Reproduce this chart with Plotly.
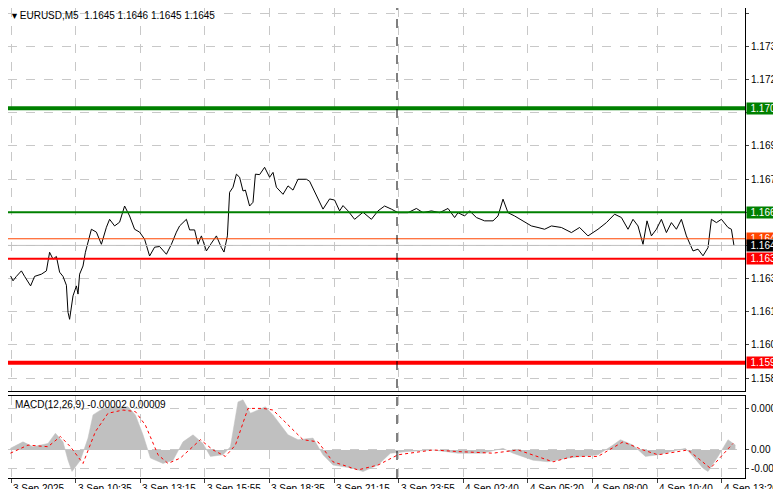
import plotly.graph_objects as go

# price trace (bar index, close)
price_bar = [1.3, 2.5, 4.2, 6.7, 8.3, 11.3, 13.3, 16.7, 19.2, 20.8, 22.5, 24.2, 25.8, 27.5, 29.2, 30.0, 30.8, 32.5, 34.2, 35.0, 35.8, 37.5, 38.7, 40.0, 41.7, 44.2, 46.7, 49.2, 50.8, 53.3, 55.8, 58.3, 60.8, 63.3, 65.8, 68.3, 70.8, 73.3, 75.8, 79.2, 81.7, 84.2, 85.8, 89.2, 90.8, 93.3, 95.0, 96.7, 99.2, 101.7, 104.2, 106.7, 108.0, 109.7, 110.8, 112.5, 114.2, 115.8, 117.5, 118.7, 120.8, 122.5, 123.7, 125.8, 128.3, 130.8, 132.5, 134.2, 137.5, 140.0, 142.5, 145.0, 149.2, 150.8, 153.3, 157.5, 160.8, 163.3, 165.8, 167.5, 170.0, 173.3, 177.5, 181.7, 185.0, 188.3, 191.7, 194.2,
             195.0, 200.0, 204.2, 207.5, 211.7, 215.8, 220.0, 223.3, 225.0, 228.3, 230.8, 234.2, 238.3, 242.5, 245.0, 247.5, 250.0, 253.3, 257.5, 261.7, 265.0, 268.3, 271.7, 276.7, 281.7, 285.8, 290.0, 295.0, 299.2, 303.3, 306.7, 310.0, 312.5, 315.0, 317.5, 319.5, 321.7, 324.2, 326.7, 329.2, 331.7, 334.2, 336.7, 339.2, 342.5, 345.0, 347.5, 350.0, 351.7, 354.2, 356.7, 360.0, 361.7, 363.0]
price_close = [1.16312, 1.16290, 1.16310, 1.16335, 1.16310, 1.16267, 1.16310, 1.16320, 1.16335, 1.16419, 1.16388, 1.16400, 1.16329, 1.16310, 1.16270, 1.16148, 1.16116, 1.16222, 1.16267, 1.16230, 1.16320, 1.16357, 1.16419, 1.16470, 1.16523, 1.16510, 1.16455, 1.16532, 1.16568, 1.16538, 1.16555, 1.16628, 1.16583, 1.16523, 1.16510, 1.16478, 1.16402, 1.16442, 1.16445, 1.16410, 1.16455, 1.16510, 1.16538, 1.16568, 1.16520, 1.16520, 1.16455, 1.16493, 1.16425, 1.16460, 1.16493, 1.16440, 1.16420, 1.16493, 1.16690, 1.16713, 1.16772, 1.16758, 1.16696, 1.16700, 1.16628, 1.16645, 1.16772, 1.16770, 1.16803, 1.16758, 1.16780, 1.16713, 1.16681, 1.16719, 1.16700, 1.16749, 1.16749, 1.16740, 1.16690, 1.16614, 1.16660, 1.16655, 1.16606, 1.16630, 1.16606, 1.16568, 1.16600, 1.16568, 1.16606, 1.16628, 1.16614, 1.16600,
               1.16598, 1.16598, 1.16617, 1.16598, 1.16606, 1.16598, 1.16617, 1.16576, 1.16598, 1.16583, 1.16606, 1.16576, 1.16561, 1.16561, 1.16583, 1.16659, 1.16598, 1.16583, 1.16561, 1.16538, 1.16531, 1.16523, 1.16538, 1.16531, 1.16508, 1.16531, 1.16493, 1.16523, 1.16553, 1.16591, 1.16576, 1.16523, 1.16568, 1.16538, 1.16455, 1.16561, 1.16493, 1.16523, 1.16568, 1.16508, 1.16553, 1.16523, 1.16568, 1.16493, 1.16425, 1.16433, 1.16403, 1.16440, 1.16568, 1.16553, 1.16568, 1.16531, 1.16523, 1.16448]

# MACD histogram and signal (bar index, value)
hist_bar = [1.2, 7.5, 12.5, 20.0, 23.7, 27.5, 30.0, 32.0, 36.2, 40.0, 42.5, 47.5, 52.5, 60.0, 63.7, 67.5, 71.2, 77.5, 82.5, 87.5, 92.5, 97.5, 101.2, 107.5, 111.2, 115.0, 117.5, 121.2, 125.0, 128.7, 132.5, 140.0, 145.0, 152.5, 157.5, 162.5, 172.5, 177.5, 185.0, 191.2, 200.0, 212.5, 225.0, 237.5, 247.5, 252.5, 262.5, 270.0, 280.0, 295.0, 302.5, 306.2, 312.5, 318.7, 325.0, 332.5, 338.7, 342.5, 347.5, 350.0, 355.0, 360.0, 363.7]
hist_val = [0.00003, 0.00015, 0.00006, 0.00012, 0.00031, 0.00015, -0.00019, -0.00040, -0.00019, 0.00022, 0.00065, 0.00077, 0.00080, 0.00080, 0.00065, 0.00028, -0.00015, -0.00025, -0.00019, 0.00015, 0.00028, 0.00012, -0.00012, -0.00009, 0.00006, 0.00089, 0.00093, 0.00068, 0.00074, 0.00080, 0.00065, 0.00028, 0.00019, 0.00022, -0.00009, -0.00028, -0.00034, -0.00040, -0.00028, -0.00006, -0.00003, 0.00000, -0.00006, -0.00006, 0.00003, -0.00006, -0.00019, -0.00022, -0.00015, -0.00009, 0.00009, 0.00019, 0.00009, -0.00012, -0.00009, -0.00003, 0.00003, -0.00012, -0.00034, -0.00040, -0.00012, 0.00019, 0.00009]
sig_bar = [1.2, 10.0, 20.0, 26.2, 31.2, 37.5, 43.7, 50.0, 57.5, 63.7, 68.7, 75.0, 80.0, 86.2, 96.2, 102.5, 108.7, 113.7, 120.0, 127.5, 132.5, 140.0, 147.5, 155.0, 162.5, 175.0, 185.0, 195.0, 212.5, 225.0, 242.5, 255.0, 272.5, 282.5, 295.0, 307.5, 317.5, 325.0, 340.0, 351.2, 362.5]
sig_val = [-0.00006, 0.00009, 0.00006, 0.00025, 0.00006, -0.00025, 0.00034, 0.00068, 0.00074, 0.00071, 0.00046, -0.00009, -0.00025, -0.00015, 0.00019, 0.00000, -0.00012, 0.00009, 0.00077, 0.00077, 0.00074, 0.00046, 0.00019, 0.00015, -0.00022, -0.00037, -0.00028, -0.00009, 0.00000, -0.00003, -0.00006, 0.00000, -0.00022, -0.00012, -0.00012, 0.00015, 0.00000, -0.00009, 0.00000, -0.00034, 0.00012]

# time axis labels
date_bars = [1.5, 33.8, 66.1, 98.4, 130.7, 163.0, 195.3, 227.6, 259.9, 292.2, 324.5, 356.8]
date_labels = ['3 Sep 2025', '3 Sep 10:35', '3 Sep 13:15', '3 Sep 15:55', '3 Sep 18:35', '3 Sep 21:15',
               '3 Sep 23:55', '4 Sep 02:40', '4 Sep 05:20', '4 Sep 08:00', '4 Sep 10:40', '4 Sep 13:20']
now_bar = 194.5

price_ticks = [1.1750, 1.1735, 1.1720, 1.1705, 1.1690, 1.1675, 1.1660, 1.1645, 1.1630, 1.1615, 1.1600, 1.1585]
price_tick_text = ['1.1750', '1.1735', '1.1720', '', '1.1690', '1.1675', '', '', '1.1630', '1.1615', '1.1600', '1.1585']

# levels: value, colour, width, label bg
levels = [
    (1.1707, '#008000', 4, '#008000'),
    (1.1660, '#008000', 2, '#008000'),
    (1.1648, '#ff4500', 1, '#ff4500'),
    (1.1645, '#c0c0c0', 1, '#000000'),
    (1.1639, '#ff0000', 2, '#ff0000'),
    (1.1592, '#ff0000', 4, '#ff0000'),
]

FONT = 'Liberation Sans'
XR = [0, 368.5]
XD = [0, 737 / 781]

fig = go.Figure()
fig.add_trace(go.Scatter(x=price_bar, y=price_close, mode='lines',
                         line=dict(color='black', width=1), xaxis='x', yaxis='y'))
fig.add_trace(go.Scatter(x=hist_bar, y=hist_val, mode='lines', fill='tozeroy',
                         fillcolor='#c0c0c0', line=dict(color='#c0c0c0', width=0.5),
                         xaxis='x2', yaxis='y2'))
fig.add_trace(go.Scatter(x=sig_bar, y=sig_val, mode='lines',
                         line=dict(color='red', width=1, dash='dot'), xaxis='x2', yaxis='y2'))

for lv, col, w, bg in levels:
    fig.add_shape(type='line', xref='x', yref='y', x0=XR[0], x1=XR[1], y0=lv, y1=lv,
                  line=dict(color=col, width=w))
for lv, col, w, bg in levels:
    fig.add_annotation(xref='paper', yref='y', x=XD[1] + 0.001, y=lv, xanchor='left',
                       text=f'{lv:.4f}', showarrow=False, bgcolor=bg, height=11,
                       font=dict(color='white', size=10, family=FONT), borderpad=0, width=38)

fig.add_shape(type='line', xref='x', yref='paper', x0=now_bar, x1=now_bar, y0=1 - 470 / 489, y1=1,
              line=dict(color='black', width=1, dash='dash'))

for b, t in zip(date_bars, date_labels):
    fig.add_annotation(xref='x2', yref='paper', x=b, y=1 - 473 / 489, xanchor='left', yanchor='top',
                       text=t, showarrow=False, font=dict(size=10, family=FONT, color='black'))

fig.add_annotation(xref='paper', yref='paper', x=0.003, y=0.999, xanchor='left', yanchor='top',
                   text='▾ EURUSD,M5  1.1645 1.1646 1.1645 1.1645', showarrow=False,
                   font=dict(size=10, family=FONT, color='black'))
fig.add_annotation(xref='paper', yref='paper', x=0.006, y=1 - 389 / 489, xanchor='left', yanchor='top',
                   text='MACD(12,26,9) -0.00002 0.00009', showarrow=False,
                   font=dict(size=10, family=FONT, color='black'))

grid = dict(showgrid=True, gridcolor='#c8c8c8', griddash='dash', gridwidth=1, automargin=False,
            showline=True, linecolor='black', linewidth=1, mirror=True, zeroline=False)

fig.update_layout(
    width=781, height=489, margin=dict(l=0, r=0, t=0, b=0, autoexpand=False),
    paper_bgcolor='white', plot_bgcolor='white', showlegend=False,
    font=dict(family=FONT, size=10, color='black'),
    xaxis=dict(domain=XD, range=XR, anchor='y', tickvals=date_bars, showticklabels=False, **grid),
    yaxis=dict(domain=[1 - 383 / 489, 1], range=[1.15792, 1.17523], side='right',
               tickvals=price_ticks, ticktext=price_tick_text, ticks='outside', ticklen=3,
               tickfont=dict(size=10), anchor='x', **grid),
    xaxis2=dict(domain=XD, range=XR, anchor='y2', tickvals=date_bars, showticklabels=False,
                ticks='outside', ticklen=4, **grid),
    yaxis2=dict(domain=[1 - 470 / 489, 1 - 388 / 489], range=[-0.00052, 0.00100], side='right',
                tickvals=[0.00076, 0.0, -0.00035], ticktext=['0.00076', '0.00', '-0.00035'],
                ticks='outside', ticklen=3, tickfont=dict(size=10), anchor='x2', **grid),
)

fig.write_html('out.html')
